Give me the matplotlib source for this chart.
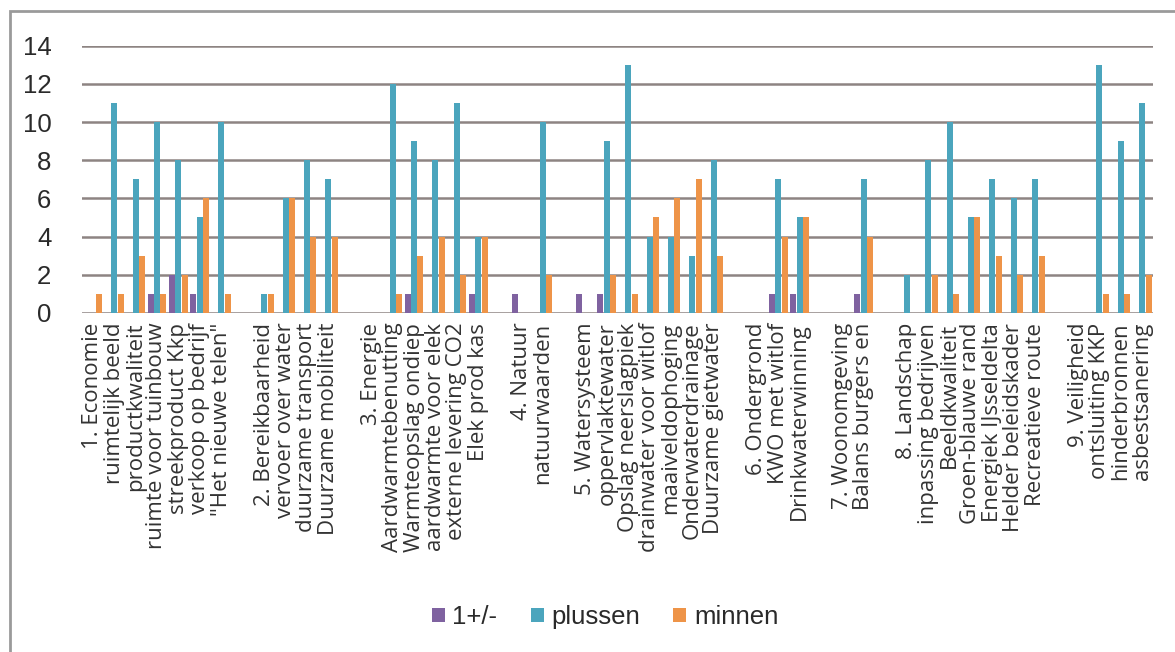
import numpy as np
import matplotlib
matplotlib.use('Agg')
import matplotlib.pyplot as plt
from matplotlib.patches import Rectangle

# categorie labels (lege labels = scheiding tussen thema's)
labels = [
    "1. Economie", "ruimtelijk beeld", "productkwaliteit", "ruimte voor tuinbouw",
    "streekproduct Kkp", "verkoop op bedrijf", "\"Het nieuwe telen\"", "",
    "2. Bereikbaarheid", "vervoer over water", "duurzame transport", "Duurzame mobiliteit", "",
    "3. Energie", "Aardwarmtebenutting", "Warmteopslag ondiep", "aardwarmte voor elek",
    "externe levering CO2", "Elek prod kas", "",
    "4. Natuur", "natuurwaarden", "",
    "5. Watersysteem", "oppervlaktewater", "Opslag neerslagpiek", "drainwater voor witlof",
    "maaiveldophoging", "Onderwaterdrainage", "Duurzame gietwater", "",
    "6. Ondergrond", "KWO met witlof", "Drinkwaterwinning", "",
    "7. Woonomgeving", "Balans burgers en", "",
    "8. Landschap", "inpassing bedrijven", "Beeldkwaliteit", "Groen-blauwe rand",
    "Energiek IJsseldelta", "Helder beleidskader", "Recreatieve route", "",
    "9. Veiligheid", "ontsluiting KKP", "hinderbronnen", "asbestsanering",
]

neutraal = [0, 0, 0, 1, 2, 1, 0, 0,
            0, 0, 0, 0, 0,
            0, 0, 1, 0, 0, 1, 0,
            1, 0, 0,
            1, 1, 0, 0, 0, 0, 0, 0,
            0, 1, 1, 0,
            0, 1, 0,
            0, 0, 0, 0, 0, 0, 0, 0,
            0, 0, 0, 0]

plussen = [0, 11, 7, 10, 8, 5, 10, 0,
           1, 6, 8, 7, 0,
           0, 12, 9, 8, 11, 4, 0,
           0, 10, 0,
           0, 9, 13, 4, 4, 3, 8, 0,
           0, 7, 5, 0,
           0, 7, 0,
           2, 8, 10, 5, 7, 6, 7, 0,
           0, 13, 9, 11]

minnen = [1, 1, 3, 1, 2, 6, 1, 0,
          1, 6, 4, 4, 0,
          0, 1, 3, 4, 2, 4, 0,
          0, 2, 0,
          0, 2, 1, 5, 6, 7, 3, 0,
          0, 4, 5, 0,
          0, 4, 0,
          0, 2, 1, 5, 3, 2, 3, 0,
          0, 1, 1, 2]

series_names = ["1+/-", "plussen", "minnen"]
colors = ["#7f62a0", "#4ba5bd", "#ee9448"]

fig = plt.figure(figsize=(11.75, 6.52), dpi=100)
ax = fig.add_axes([0.0698, 0.52, 0.9115, 0.41])

x = np.arange(len(labels))
w = 0.28
for off, vals, name, c in zip([-0.3, 0, 0.3], [neutraal, plussen, minnen], series_names, colors):
    ax.bar(x + off, vals, width=w, color=c, label=name, zorder=3)

ax.set_xlim(-0.5, len(labels) - 0.5)
ax.set_ylim(0, 14)
ax.yaxis.grid(True, color="#8d8482", lw=1.8, zorder=0)
ax.set_axisbelow(True)
for s in ax.spines.values():
    s.set_visible(False)
ax.tick_params(axis='both', length=0)
ax.set_yticks(range(0, 15, 2))
ax.set_yticklabels([str(v) for v in range(0, 15, 2)], fontsize=18.5, family="Liberation Sans",
                   color="#2a2a2a")
ax.tick_params(axis='y', pad=22)
ax.set_xticks(x)
ax.set_xticklabels(labels, rotation=90, fontsize=16, family="Open Sans", color="#333333")
ax.tick_params(axis='x', pad=7)

leg = fig.legend(loc='center', bbox_to_anchor=(0.515, 1 - 617 / 652), ncol=3, frameon=False,
                 prop={'family': 'Liberation Sans', 'size': 18.5},
                 handlelength=0.5, handleheight=0.5, handletextpad=0.3,
                 columnspacing=1.3)
for t in leg.get_texts():
    t.set_color("#2a2a2a")

# kader om de grafiek
fig.patches.append(Rectangle((10 / 1175, -0.05), 1.1, 1 - 11 / 652 + 0.05,
                             transform=fig.transFigure, fill=False,
                             edgecolor="#9a9a9a", lw=2))

fig.savefig("out.png", dpi=100)
